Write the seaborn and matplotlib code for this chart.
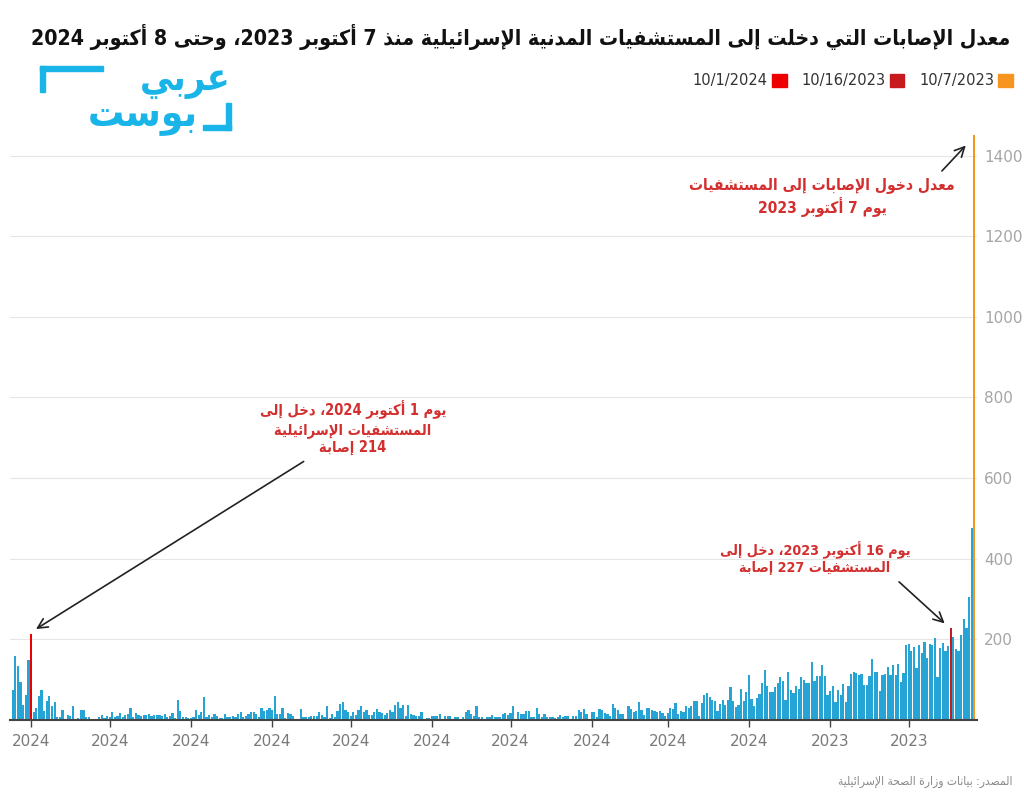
import re
import numpy as np
import pandas as pd
import matplotlib
matplotlib.use('Agg')
import matplotlib.pyplot as plt
from matplotlib.patches import Patch, Rectangle
import seaborn as sns

# daily injured admissions, left to right
# (the x axis runs from 10/8/2024 on the left back to 10/7/2023 on the right)
first_week = [74, 159, 134, 95, 37, 61, 150]          # 10/8/2024 .. 10/2/2024
oct1_2024 = 214
seg_a = [19, 31, 60, 74, 22, 46, 60, 34, 45, 7, 7, 25, 2, 12, 9, 34, 3, 5, 26, 26,
         7, 7, 0, 0, 2, 7, 12, 6, 11, 8, 19, 7, 11, 17, 8, 12, 14, 29, 7, 18,
         12, 11, 13, 12, 16, 9, 12, 12, 12, 9, 14, 8, 10]
seg_b = [18, 6, 50, 23, 7, 7, 4, 4, 7, 26, 13, 20, 56, 7, 13, 8, 15, 11, 5, 5,
         15, 8, 8, 11, 7, 14, 20, 8, 11, 14, 21, 20, 15, 7, 30, 23, 25, 29, 25, 60,
         15, 15, 30, 4, 17, 16, 9, 2, 0, 27, 8, 8, 7, 10, 11, 10, 21, 12, 8, 35]
seg_c = [4, 15, 7, 23, 40, 45, 24, 20, 10, 19, 12, 26, 34, 20, 26, 12, 12, 20, 27, 20,
         17, 13, 18, 24, 20, 37, 44, 30, 37, 10, 37, 16, 12, 11, 11, 21, 3, 6, 5, 11,
         11, 11, 14, 2, 10, 10, 11, 2, 7, 7, 3, 8, 20, 26, 14, 10, 35, 7, 7, 3, 7]
seg_d = [7, 12, 8, 8, 8, 15, 18, 12, 18, 35, 2, 21, 15, 15, 23, 22, 7, 7, 29, 15,
         8, 15, 7, 7, 7, 4, 7, 12, 8, 11, 11, 2, 11, 11, 24, 20, 27, 14, 0, 20,
         20, 8, 27, 25, 17, 15, 9, 40, 29, 26, 15, 15, 2, 34, 27, 20, 23, 44, 26, 12, 30]
seg_e = [30, 24, 22, 19, 22, 17, 11, 17, 30, 27, 41, 14, 22, 21, 34, 31, 35, 47, 46, 11,
         43, 63, 66, 56, 49, 46, 22, 39, 50, 37, 50, 83, 46, 32, 37, 76, 47, 69, 112, 52,
         35, 55, 64, 92, 123, 85, 70, 69, 82, 93, 107, 97, 50, 119, 74, 66, 85, 76, 106, 98, 93]
seg_f = [91, 144, 96, 108, 109, 137, 108, 62, 73, 85, 44, 74, 61, 90, 45, 84, 115, 119, 116, 112,
         114, 86, 87, 108, 152, 119, 118, 73, 112, 114, 132, 112, 136, 112, 138, 95, 117, 185, 189, 172,
         181, 128, 186, 165, 194, 154, 188, 185, 203, 106, 179, 190, 171, 184]
oct16_2023 = 227
early_days = [207, 175, 171, 212, 251, 228, 304, 475]  # 10/15/2023 .. 10/8/2023
oct7_2023 = 1450

legend_labels = ['10/1/2024', '10/16/2023', '10/7/2023']
year_ticks = [200, 400, 600, 800, 1000, 1200, 1400]

title = 'معدل الإصابات التي دخلت إلى المستشفيات المدنية الإسرائيلية منذ 7 أكتوبر 2023، وحتى 8 أكتوبر 2024'
note_top = ['معدل دخول الإصابات إلى المستشفيات', 'يوم 7 أكتوبر 2023']
note_left = ['يوم 1 أكتوبر 2024، دخل إلى', 'المستشفيات الإسرائيلية', '214 إصابة']
note_right = ['يوم 16 أكتوبر 2023، دخل إلى', 'المستشفيات 227 إصابة']
source = 'المصدر: بيانات وزارة الصحة الإسرائيلية'
logo_top = 'عربي'
logo_bottom = 'بوست'

# --- tiny arabic shaping (matplotlib has no shaping / bidi) ---
_dual = {'ئ': 0xFE89, 'ب': 0xFE8F, 'ت': 0xFE95, 'ث': 0xFE99, 'ج': 0xFE9D, 'ح': 0xFEA1,
         'خ': 0xFEA5, 'س': 0xFEB1, 'ش': 0xFEB5, 'ص': 0xFEB9, 'ض': 0xFEBD, 'ط': 0xFEC1,
         'ظ': 0xFEC5, 'ع': 0xFEC9, 'غ': 0xFECD, 'ف': 0xFED1, 'ق': 0xFED5, 'ك': 0xFED9,
         'ل': 0xFEDD, 'م': 0xFEE1, 'ن': 0xFEE5, 'ه': 0xFEE9, 'ي': 0xFEF1}
_right = {'آ': 0xFE81, 'أ': 0xFE83, 'ؤ': 0xFE85, 'إ': 0xFE87, 'ا': 0xFE8D, 'ة': 0xFE93,
          'د': 0xFEA9, 'ذ': 0xFEAB, 'ر': 0xFEAD, 'ز': 0xFEAF, 'و': 0xFEED, 'ى': 0xFEEF}
_lamalef = {'آ': 0xFEF5, 'أ': 0xFEF7, 'إ': 0xFEF9, 'ا': 0xFEFB}


def shape(s):
    out = []
    i = 0
    while i < len(s):
        c = s[i]
        if c not in _dual and c not in _right:
            out.append(c)
            i += 1
            continue
        prev = s[i - 1] if i > 0 else ''
        pj = prev in _dual
        if c == 'ل' and i + 1 < len(s) and s[i + 1] in _lamalef:
            out.append(chr(_lamalef[s[i + 1]] + (1 if pj else 0)))
            i += 2
            continue
        nxt = s[i + 1] if i + 1 < len(s) else ''
        nj = nxt in _dual or nxt in _right
        if c in _dual:
            base = _dual[c]
            off = 3 if (pj and nj) else 1 if pj else 2 if nj else 0
        else:
            base = _right[c]
            off = 1 if pj else 0
        out.append(chr(base + off))
        i += 1
    return ''.join(out)


def ar(lines):
    if isinstance(lines, str):
        lines = [lines]
    res = []
    for ln in lines:
        t = shape(ln)[::-1]
        res.append(re.sub(r'[0-9/.]+', lambda m: m.group(0)[::-1], t))
    return '\n'.join(res)


counts = (first_week + [oct1_2024] + seg_a + seg_b + seg_c + seg_d + seg_e + seg_f
          + [oct16_2023] + early_days + [oct7_2023])
dates = pd.date_range('2023-10-07', '2024-10-08', freq='D')[::-1]
df = pd.DataFrame({'date': dates, 'count': counts[:len(dates)]})
df['label'] = df['date'].dt.strftime('%Y-%m-%d')
highlight = {'2024-10-01': '10/1/2024', '2023-10-16': '10/16/2023', '2023-10-07': '10/7/2023'}
df['group'] = df['label'].map(highlight).fillna('other')
palette = {'other': '#27a4d6', '10/1/2024': '#ee0000', '10/16/2023': '#c8191e', '10/7/2023': '#f7941d'}

fig = plt.figure(figsize=(10.24, 8.06), dpi=100)
ax = fig.add_axes([10 / 1024, 1 - 720 / 806, 967 / 1024, 587 / 806])

sns.barplot(data=df, x='label', y='count', hue='group', palette=palette,
            order=list(df['label']), dodge=False, width=0.85, saturation=1,
            legend=False, ax=ax, linewidth=0)

ax.set_xlim(-1.03, 368.05)
ax.set_ylim(0, 1456)
ax.yaxis.tick_right()
ax.set_yticks(year_ticks)
ax.tick_params(axis='y', length=0, pad=5, labelcolor='#a5a5a5', labelsize=11)
month_pos = np.where(df['date'].dt.day == 1)[0]
ax.set_xticks(month_pos)
ax.set_xticklabels(df['date'].dt.year.iloc[month_pos].astype(str))
ax.tick_params(axis='x', length=5, width=1, color='#444444', labelcolor='#7a7a7a',
               labelsize=11, pad=5)
ax.set_xlabel('')
ax.set_ylabel('')
ax.grid(axis='y', color='#e6e6e6', lw=0.8)
ax.set_axisbelow(True)
for s in ['left', 'top', 'right']:
    ax.spines[s].set_visible(False)
ax.spines['bottom'].set_color('#444444')
ax.spines['bottom'].set_linewidth(1.5)


def fx(x, y):
    return (x / 1024, 1 - y / 806)


texts = []  # (text, target width in px)


def artext(x, y, s, width=None, **kw):
    t = fig.text(*fx(x, y), ar(s), fontstretch='condensed', **kw)
    if width:
        texts.append((t, width))
    return t


artext(1010, 37, title, 975, ha='right', va='center', fontsize=19,
       fontweight='bold', color='#111111')

handles = [Patch(color=palette[k]) for k in legend_labels]
fig.legend(handles, legend_labels, loc='center right', bbox_to_anchor=fx(1013, 81),
           borderaxespad=0, borderpad=0, ncol=3, frameon=False, markerfirst=False,
           handlelength=1.0, handleheight=1.0, columnspacing=1.0, handletextpad=0.3,
           fontsize=10.5, labelcolor='#333333')

# logo
cyan = '#19b4e8'
for (x, y, w, h) in [(40, 66, 63, 5), (40, 66, 5, 26), (226, 103, 5, 27), (203, 125, 28, 5)]:
    fig.patches.append(Rectangle(fx(x, y + h), w / 1024, h / 806, transform=fig.transFigure,
                                 color=cyan))
artext(231, 90, logo_top, ha='right', va='baseline', fontsize=27,
       fontweight='bold', color=cyan)
artext(198, 126, logo_bottom, ha='right', va='baseline', fontsize=29,
       fontweight='bold', color=cyan)

red_txt = '#d32f2f'
artext(822, 197, note_top, 265, ha='center', va='center', fontsize=12,
       fontweight='bold', color=red_txt, linespacing=1.2)
artext(353, 428, note_left, 185, ha='center', va='center', fontsize=12,
       fontweight='bold', color=red_txt, linespacing=1.2)
artext(815, 558, note_right, 190, ha='center', va='center', fontsize=12,
       fontweight='bold', color=red_txt, linespacing=1.2)
artext(1012, 781, source, 177, ha='right', va='center', fontsize=9.5, color='#8a8a8a')

# scale arabic texts so their widths match the reference layout
renderer = fig.canvas.get_renderer()
for t, w in texts:
    cur = t.get_window_extent(renderer=renderer).width
    t.set_fontsize(t.get_fontsize() * w / cur)

pos = {g: int(np.where(df['group'] == g)[0][0]) for g in legend_labels}
arrow = dict(arrowstyle='->,head_length=0.7,head_width=0.35', color='#222222', lw=1.2)
ax.annotate('', xy=(pos['10/1/2024'] + 1, oct1_2024 + 8), xycoords='data',
            xytext=fx(306, 460), textcoords='figure fraction', arrowprops=arrow)
ax.annotate('', xy=(pos['10/16/2023'] - 1.5, oct16_2023 + 8), xycoords='data',
            xytext=fx(897, 580), textcoords='figure fraction', arrowprops=arrow)
ax.annotate('', xy=(pos['10/7/2023'] - 2.5, oct7_2023 - 20), xycoords='data',
            xytext=fx(940, 173), textcoords='figure fraction', arrowprops=arrow)

fig.savefig('out.png', dpi=100)
